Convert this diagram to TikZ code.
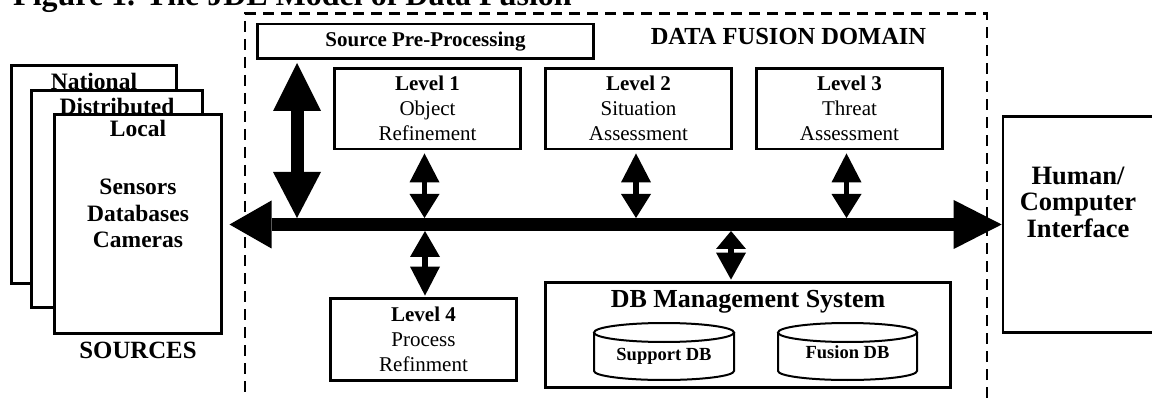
\documentclass[tikz,border=0pt]{standalone}
\usepackage{fontspec}
\setmainfont{Liberation Serif}
\usetikzlibrary{arrows.meta}
\newcommand\sz[2]{\fontsize{#1pt}{#2pt}\selectfont}

\begin{document}
\begin{tikzpicture}[x=1pt,y=-1pt,
  box/.style={draw,line width=2.8pt,fill=white,inner sep=0pt},
  level/.style={box,minimum width=186pt,minimum height=80.5pt,align=center,font=\sz{21}{25}},
  lbl/.style={inner sep=0pt,anchor=base,font=\bfseries\sz{#1}{#1}},
  frame/.style={draw,line width=2.6pt,dash pattern=on 11pt off 7pt,inner sep=0pt},
  cyl/.style={draw,line width=2pt,fill=white},
  bus/.style={line width=13pt},
  link/.style={line width=5.5pt},
]
\useasboundingbox (0,0) rectangle (1152,398);

% caption (runs off the top edge)
\node[lbl=32,anchor=base west] (title) at (13,6) {Figure 1. The JDL Model of Data Fusion};

% data fusion domain
\node[frame,minimum width=742pt,minimum height=398.5pt] (domain) at (616,212.75) {};
\node[lbl=24.5] (domtitle) at (788.5,45) {DATA FUSION DOMAIN};

% stacked sources
\node[box,minimum width=165.2pt,minimum height=218.2pt] (national) at (94,174.5) {};
\node[lbl=23.5] (nattext) at (94,90) {National};
\node[box,minimum width=171.2pt,minimum height=217.2pt] (distributed) at (117,199) {};
\node[lbl=23.5] (disttext) at (117,114.5) {Distributed};
\node[box,minimum width=167.2pt,minimum height=219.2pt] (local) at (138,224) {};
\node[lbl=23.5] (loctext) at (138,137) {Local};
\node[lbl=23.5] (sensors) at (138,195) {Sensors};
\node[lbl=23.5] (databases) at (138,222) {Databases};
\node[lbl=23.5] (cameras) at (138,248) {Cameras};
\node[lbl=24.8] (sources) at (138,358) {SOURCES};

% processing blocks
\node[box,minimum width=336pt,minimum height=34.5pt,font=\bfseries\sz{21}{25}] (spp) at (425.5,41.35) {Source Pre-Processing};
\node[level] (L1) at (427.5,108.75) {\textbf{Level 1}\\Object\\Refinement};
\node[level] (L2) at (638.5,108.75) {\textbf{Level 2}\\Situation\\Assessment};
\node[level] (L3) at (849.5,108.75) {\textbf{Level 3}\\Threat\\Assessment};
\node[level,minimum height=82pt] (L4) at (423.5,339.5) {\textbf{Level 4}\\Process\\Refinment};

% database management
\node[box,minimum width=405pt,minimum height=105pt] (db) at (748,335) {};
\node[lbl=26] (dbtitle) at (748,308) {DB Management System};
\draw[cyl] (594,332.5) -- (594,371) arc[start angle=180,end angle=0,x radius=70,y radius=9] -- (734,332.5);
\draw[cyl] (664,332.5) ellipse[x radius=70,y radius=9.5];
\node[lbl=18.5] (supdb) at (664,360) {Support DB};
\draw[cyl] (778,332.5) -- (778,371) arc[start angle=180,end angle=0,x radius=69.5,y radius=9] -- (917,332.5);
\draw[cyl] (847.5,332.5) ellipse[x radius=69.5,y radius=9.5];
\node[lbl=18.5] (fusdb) at (847.5,358) {Fusion DB};

% human/computer interface
\node[box,line width=2.6pt,minimum width=162pt,minimum height=216.4pt] (hci) at (1084,224.5) {};
\node[font=\bfseries\sz{26.5}{26.5},align=center,inner sep=0pt] (hcitext) at (1078,202) {Human/\\Computer\\Interface};

% bus
\coordinate (busL) at (229.5,224.5);
\coordinate (busT) at (0,218);
\coordinate (busB) at (0,231);
\draw[bus,{Triangle[length=42pt,width=48pt,line width=0pt]}-{Triangle[length=48pt,width=49pt,line width=0pt]}] (busL) -- (hci.west);

% pre-processing link
\coordinate (sppJ) at (297,0);
\coordinate (sppS) at ([yshift=-3pt]spp.south);
\draw[bus,{Triangle[length=48pt,width=48pt,line width=0pt]}-{Triangle[length=46pt,width=48pt,line width=0pt]}] (sppS -| sppJ) -- (sppJ |- busT);

% level links above the bus
\coordinate (j1) at ([xshift=-3pt,yshift=-3pt]L1.south);
\coordinate (j2) at ([xshift=-2.5pt,yshift=-3pt]L2.south);
\coordinate (j3) at ([xshift=-3pt,yshift=-3pt]L3.south);
\foreach \j in {j1,j2,j3}
  \draw[link,{Triangle[length=29pt,width=30pt,line width=0pt]}-{Triangle[length=24pt,width=30pt,line width=0pt]}] (\j) -- (\j |- busT);

% links below the bus
\coordinate (j4) at ([xshift=1.5pt,yshift=1.5pt]L4.north);
\draw[link,{Triangle[length=26pt,width=30pt,line width=0pt]}-{Triangle[length=29pt,width=30pt,line width=0pt]}] (j4 |- busB) -- (j4);
\coordinate (j5) at ([xshift=-17pt,yshift=1.5pt]db.north);
\draw[link,{Triangle[length=18pt,width=30pt,line width=0pt]}-{Triangle[length=27pt,width=30pt,line width=0pt]}] (j5 |- busB) -- (j5);
\end{tikzpicture}
\end{document}
